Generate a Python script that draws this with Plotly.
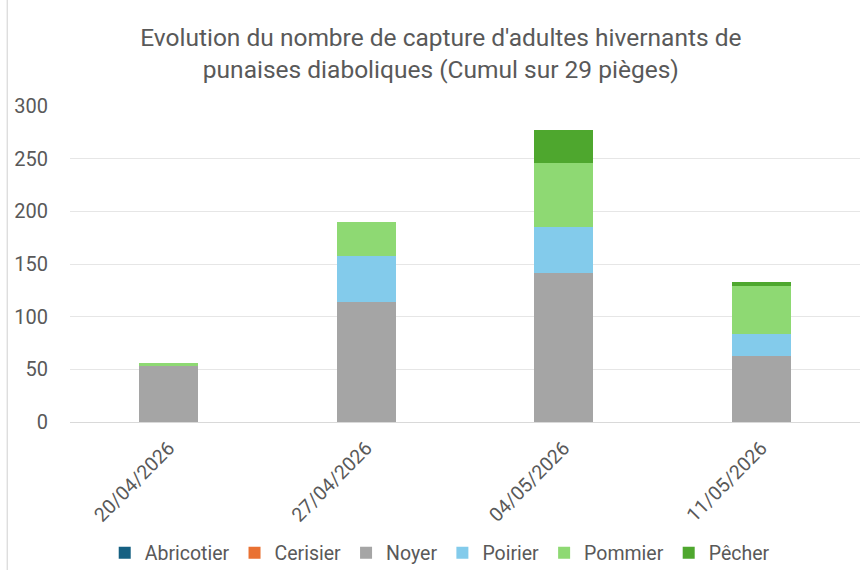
import plotly.graph_objects as go

dates = ["20/04/2026", "27/04/2026", "04/05/2026", "11/05/2026"]
series_names = ["Abricotier", "Cerisier", "Noyer", "Poirier", "Pommier", "Pêcher"]
abricotier = [0, 0, 0, 0]
cerisier = [0, 0, 0, 0]
noyer = [53, 114, 141, 63]
poirier = [0, 44, 44, 21]
pommier = [3, 32, 61, 45]
pecher = [0, 0, 31, 4]
colors = ["#156082", "#E97132", "#A5A5A5", "#83CBEB", "#8ED973", "#4EA72E"]
y_ticks = [0, 50, 100, 150, 200, 250, 300]

values = [abricotier, cerisier, noyer, poirier, pommier, pecher]

fig = go.Figure()
for name, vals, col in zip(series_names, values, colors):
    fig.add_trace(go.Bar(x=dates, y=vals, name=name, marker_color=col,
                         marker_line_width=0))

font_fam = "Roboto, Liberation Sans, Arial, sans-serif"
fig.update_layout(
    barmode="stack",
    bargap=0.7,
    width=861, height=570,
    paper_bgcolor="white", plot_bgcolor="white",
    margin=dict(l=70, r=1, t=106, b=148),
    title=dict(text="Evolution du nombre de capture d'adultes hivernants de<br>punaises diaboliques (Cumul sur 29 pièges)",
               x=0.512, xanchor="center", yref="container", y=1 - 46 / 570, yanchor="middle",
               font=dict(family=font_fam, size=24.5, color="#595959")),
    font=dict(family=font_fam, color="#595959"),
    legend=dict(orientation="h", x=0.468, xanchor="center", yref="container",
                y=1 - 553 / 570, yanchor="middle",
                font=dict(size=19.5, color="#595959"), itemwidth=30, tracegroupgap=0,
                traceorder="normal"),
    xaxis=dict(tickangle=-45, tickfont=dict(size=19.5, color="#595959"),
               showline=True, linecolor="#D9D9D9", linewidth=1, ticks="",
               ticklabelstandoff=6, automargin=False),
    yaxis=dict(range=[0, 300], tickvals=y_ticks, tickfont=dict(size=20, color="#595959"),
               gridcolor="#E6E6E6", gridwidth=1, zeroline=False, showline=False,
               ticklabelstandoff=21, automargin=False),
    shapes=[dict(type="line", xref="paper", yref="paper", x0=-0.0795, x1=-0.0795,
                 y0=-0.47, y1=1.34, line=dict(color="#D0D0D0", width=1))],
)

fig.write_html("out.html", config={"displayModeBar": False},
               post_script="document.body.style.margin='0';")
